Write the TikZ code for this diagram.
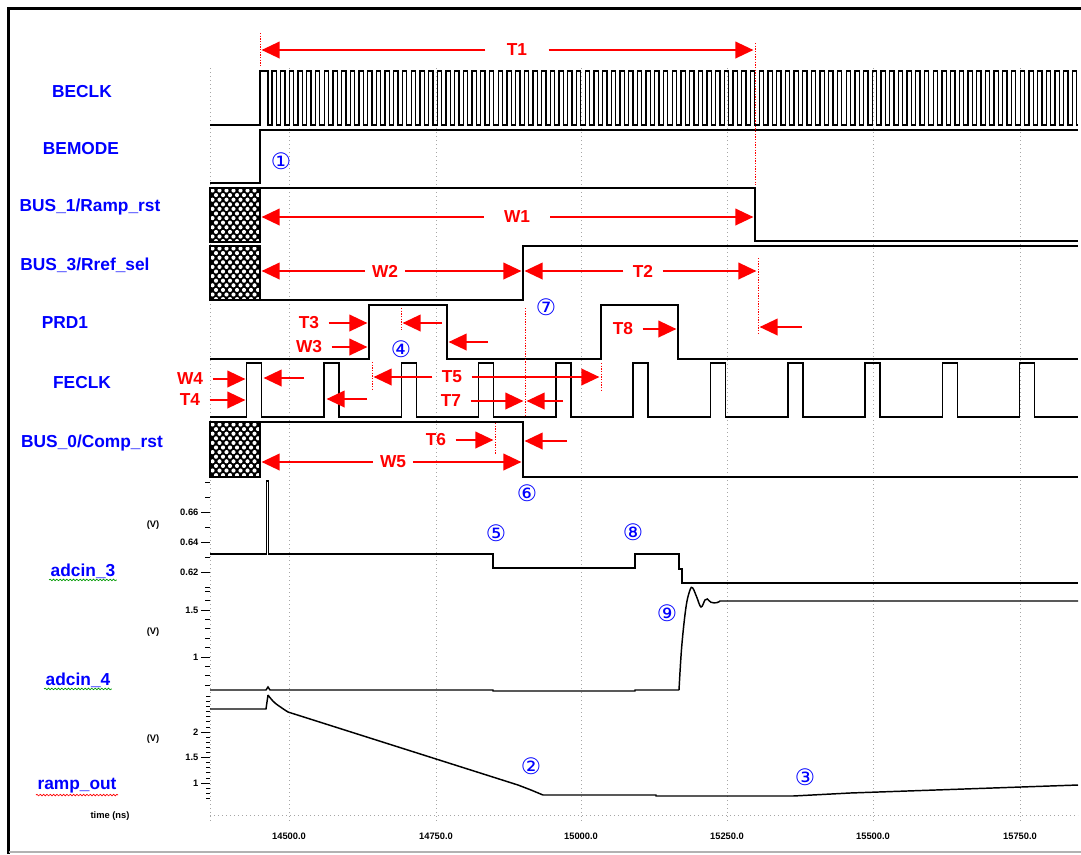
\documentclass[tikz,border=0pt]{standalone}
\usepackage{fontspec}
\setmainfont{Liberation Sans}
\newfontfamily\circfont{DejaVu Sans}
\usetikzlibrary{arrows.meta, calc, decorations.pathmorphing}

\begin{document}
\begin{tikzpicture}[x=0.75pt, y=-0.75pt,
    sig/.style = {line width=1.1pt},
    clk/.style = {line width=0.95pt},
    gridline/.style = {gray!70, line width=0.7pt, dash pattern=on 1pt off 2pt},
    redline/.style = {red, line width=0.6pt, dash pattern=on 1pt off 1pt},
    ptr/.style = {draw=red, line width=1.2pt, -{Triangle[length=13.5pt, width=12.5pt]}, shorten >=1.2pt},
    lbl/.style = {red, font=\fontsize{13}{13}\selectfont\bfseries, inner xsep=7pt, inner ysep=0pt},
    signame/.style = {blue, font=\fontsize{13}{13}\selectfont\bfseries, inner sep=1pt},
    num/.style = {blue, font=\circfont\fontsize{17}{17}\selectfont, inner sep=0pt},
    ax/.style = {font=\fontsize{7}{7}\selectfont\bfseries, inner sep=1pt},
    squig/.style = {decorate, decoration={snake, amplitude=0.6pt, segment length=2.5pt}, line width=0.5pt}
]
\useasboundingbox (0,0) rectangle (1081,854);

% frame
\draw[line width=2.2pt] (8.5,854) -- (8.5,8.5) -- (1081,8.5);
\draw[gray!60, line width=1.5pt] (8.5,852) -- (1081,852);

% grid
\foreach \x in {210,289,436,581,727,873,1020} {
    \draw[gridline] (\x,68) -- (\x,822);
}
\draw[gridline] (210,815) -- (1078,815);
\foreach \x/\t in {289/14500.0, 436/14750.0, 581/15000.0, 727/15250.0, 873/15500.0, 1020/15750.0} {
    \node[ax] (tk\x) at (\x,836) {\t};
}
\node[ax] (time) at (110,816) {time (ns)};

% signal names
\node[signame] (beclk)  at (82,92)  {BECLK};
\node[signame] (bemode) at (81,149) {BEMODE};
\node[signame] (bus1)   at (90,207) {BUS\_1/Ramp\_rst};
\node[signame] (bus3)   at (85,265) {BUS\_3/Rref\_sel};
\node[signame] (prd1)   at (65,323) {PRD1};
\node[signame] (feclk)  at (82,383) {FECLK};
\node[signame] (bus0)   at (92,443) {BUS\_0/Comp\_rst};
\node[signame] (a3)     at (83,571) {adcin\_3};
\node[signame] (a4)     at (78,680) {adcin\_4};
\node[signame] (ramp)   at (77,786) {ramp\_out};
\draw[squig, green!60!black] (a3.south west) -- (a3.south east);
\draw[squig, green!60!black] (a4.south west) -- (a4.south east);
\draw[squig, red] (ramp.south west) -- (ramp.south east);

% hatched bus values
\foreach \ya/\yb in {188/242, 246/300, 422/477} {
    \fill (210,\ya) rectangle (260,\yb);
    \begin{scope}
        \clip (210,\ya) rectangle (260,\yb);
        \foreach \i in {0,...,7} {
            \foreach \j in {0,...,12} {
                \fill[white] ({212.5+7*\i+3.5*mod(\j,2)},{\ya+2.5+4.6*\j}) circle (1.55pt);
            }
        }
    \end{scope}
    \draw[line width=0.8pt] (210,\ya) rectangle (260,\yb);
}

% digital waveforms
\draw[clk] (210,125) -- (260,125) -- (260,71) -- (268,71) -- (268,125)
    \foreach \i in {0,...,92} { -- ({272+8.7*\i},125) -- ({272+8.7*\i},71) -- ({276.3+8.7*\i},71) -- ({276.3+8.7*\i},125) }
    -- (1078,125);
\draw[sig] (210,183) -- (260,183) -- (260,130) -- (1078,130);
\draw[sig] (260,188) -- (755,188) -- (755,241) -- (1078,241);
\draw[sig] (260,300) -- (523,300) -- (523,246) -- (1078,246);
\draw[sig] (210,359) -- (369,359) -- (369,305) -- (447,305) -- (447,359) -- (601,359)
    -- (601,305) -- (678,305) -- (678,359) -- (1078,359);
\draw[sig] (210,417)
    \foreach \i in {0,...,10} { -- ({246.7+77.3*\i},417) -- ({246.7+77.3*\i},363) -- ({261.7+77.3*\i},363) -- ({261.7+77.3*\i},417) }
    -- (1078,417);
\draw[sig] (260,422) -- (523,422) -- (523,477) -- (1078,477);

% analog axes
\foreach \y in {482,497,...,587} { \draw[line width=0.6pt] (205,\y) -- (210,\y); }
\foreach \k in {0,...,10} { \draw[line width=0.6pt] (205,{591.2+9.4*\k}) -- (210,{591.2+9.4*\k}); }
\foreach \k in {0,...,20} { \draw[line width=0.6pt] (206,{696.3+5.1*\k}) -- (210,{696.3+5.1*\k}); }
\foreach \y/\v in {512/0.66, 542/0.64, 572/0.62, 610/1.5, 657/1, 732/2, 757.5/1.5, 783/1} {
    \draw[line width=0.6pt] (201,\y) -- (210,\y);
    \node[ax, anchor=east] (v\y) at (200,\y) {\v};
}
\foreach \y in {525,632,739} { \node[ax] (u\y) at (153,\y) {(V)}; }

% analog waveforms
\draw[sig] (210,554) -- (266.5,554) -- (266.5,481) -- (268.5,481) -- (268.5,554) -- (493,554) -- (493,568)
    -- (635,568) -- (635,554) -- (679,554) -- (679,569) -- (682,569) -- (682,583) -- (1078,583);
\draw[sig] (210,690) -- (266,690) -- (268,687) -- (270,690) -- (493,690) -- (493,691) -- (635,691) -- (635,690) -- (679,690)
    plot[smooth, tension=0.6] coordinates {(679,690) (681.7,646.7) (686,607) (690,590) (692.7,588) (696.7,597) (701,607)
        (705,600) (707.3,599) (711,602.3) (716.7,602.7) (720,601)}
    -- (1078,601);
\draw[sig] (210,709) -- (266,709) -- (268,695)
    plot[smooth, tension=0.6] coordinates {(268,695) (275,703) (288,712)}
    -- (518,785) -- (531,790) -- (543,795) -- (656,795) -- (656,796) -- (793,796) -- (850,793) -- (1078,785);

% timing marks
\coordinate (go)  at (260,0);
\coordinate (rst) at (755,0);
\coordinate (sel) at (523,0);
\coordinate (ref) at (758,0);
\coordinate (pA)  at (369,0);
\coordinate (pB)  at (447,0);
\coordinate (pC)  at (601,0);
\coordinate (pD)  at (678,0);
\coordinate (fA)  at (247,0);
\coordinate (fAf) at (262,0);
\coordinate (fB)  at (325,0);
\coordinate (t3m) at (401,0);
\coordinate (t5m) at (372,0);
\coordinate (t6m) at (495,0);
\coordinate (t7m) at (525,0);

\draw[redline] (260,33) -- (260,67);
\draw[redline] (755,43) -- (755,185);
\draw[redline] (758,258) -- (758,335);
\draw[redline] (525,308) -- (525,417);
\draw[redline] (401,308) -- (401,330);
\draw[redline] (372,362) -- (372,390);
\draw[redline] (601,363) -- (601,390);
\draw[redline] (495,423) -- (495,455);

\node[lbl, inner xsep=16pt] (T1) at (517,50) {T1};
\node[lbl, inner xsep=15pt] (W1) at (517,217) {W1};
\node[lbl, inner xsep=5pt]  (W2) at (385,271) {W2};
\node[lbl] (T2) at (643,271) {T2};
\node[lbl] (T3) at (309,323) {T3};
\node[lbl] (W3) at (309,347) {W3};
\node[lbl] (W4) at (190,379) {W4};
\node[lbl] (T4) at (190,400) {T4};
\node[lbl] (T5) at (452,377) {T5};
\node[lbl] (T7) at (451,401) {T7};
\node[lbl] (T6) at (436,440) {T6};
\node[lbl] (T8) at (623,329) {T8};
\node[lbl, inner xsep=5pt] (W5) at (393,462) {W5};

\coordinate (t2r) at (802,327);
\coordinate (t3r) at (442,323);
\coordinate (w3r) at (488,342);
\coordinate (w4r) at (304,378);
\coordinate (t4r) at (367,399);
\coordinate (t7r) at (563,401);
\coordinate (t6r) at (567,441);

\draw[ptr] (T1) -- (T1 -| go);
\draw[ptr] (T1) -- (T1 -| rst);
\draw[ptr] (W1) -- (W1 -| go);
\draw[ptr] (W1) -- (W1 -| rst);
\draw[ptr] (W2) -- (W2 -| go);
\draw[ptr] (W2) -- (W2 -| sel);
\draw[ptr] (T2) -- (T2 -| sel);
\draw[ptr] (T2) -- (T2 -| ref);
\draw[ptr] (t2r) -- (t2r -| ref);
\draw[ptr] (T3) -- (T3 -| pA);
\draw[ptr] (t3r) -- (t3r -| t3m);
\draw[ptr] (W3) -- (W3 -| pA);
\draw[ptr] (w3r) -- (w3r -| pB);
\draw[ptr] (W4) -- (W4 -| fA);
\draw[ptr] (w4r) -- (w4r -| fAf);
\draw[ptr] (T4) -- (T4 -| fA);
\draw[ptr] (t4r) -- (t4r -| fB);
\draw[ptr] (T5) -- (T5 -| t5m);
\draw[ptr] (T5) -- (T5 -| pC);
\draw[ptr] (T7) -- (T7 -| t7m);
\draw[ptr] (t7r) -- (t7r -| t7m);
\draw[ptr] (T6) -- (T6 -| t6m);
\draw[ptr] (t6r) -- (t6r -| sel);
\draw[ptr] (T8) -- (T8 -| pD);
\draw[ptr] (W5) -- (W5 -| go);
\draw[ptr] (W5) -- (W5 -| sel);

% event numbers
\node[num] (n1) at (281,161) {①};
\node[num] (n2) at (531,766) {②};
\node[num] (n3) at (805,777) {③};
\node[num] (n4) at (401,349) {④};
\node[num] (n5) at (496,533) {⑤};
\node[num] (n6) at (527,493) {⑥};
\node[num] (n7) at (546,307) {⑦};
\node[num] (n8) at (633,532) {⑧};
\node[num] (n9) at (667,613) {⑨};
\end{tikzpicture}
\end{document}
